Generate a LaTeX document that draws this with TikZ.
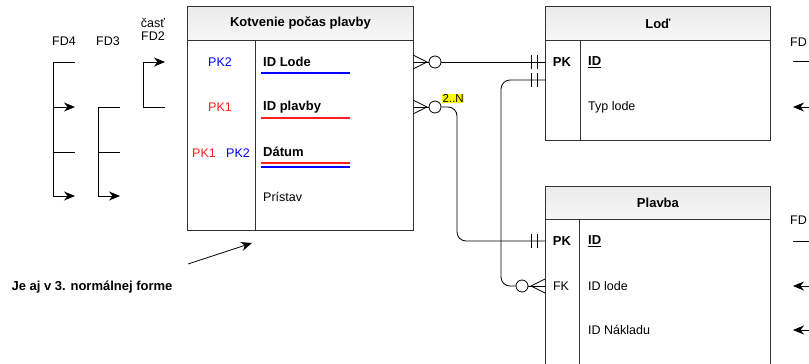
\documentclass[tikz,border=0pt]{standalone}
\usepackage{fontspec}
\setmainfont{Liberation Sans}
\usetikzlibrary{arrows.meta}
\definecolor{keyred}{RGB}{255,30,30}
\definecolor{keyblue}{RGB}{0,0,255}
\definecolor{hlyellow}{RGB}{255,255,0}
\newcommand{\rgfont}{\fontsize{12.5}{14}\selectfont}
\newcommand{\bdfont}{\fontsize{13}{15}\selectfont\bfseries}
\tikzset{
  tbl/.style={draw=black!80, line width=0.9pt, inner sep=0pt, anchor=north west},
  tblhead/.style={tbl, top color=black!8, bottom color=black!3, font=\bdfont},
  sep/.style={draw=black!80, line width=0.9pt},
  attr/.style={anchor=west, inner sep=0pt},
  battr/.style={attr, font=\bdfont},
  keytag/.style={inner sep=0pt},
  con/.style={line width=0.8pt, line join=round},
  crow/.style={line width=0.8pt, line join=miter},
  fdline/.style={line width=0.8pt},
  fdarrow/.style={line width=0.8pt, -{Stealth[length=11pt,width=9pt,inset=3.5pt]}},
  ulred/.style={color=keyred, line width=1.2pt},
  ulblue/.style={color=keyblue, line width=1.2pt},
}
\begin{document}
\begin{tikzpicture}[x=1pt, y=-1pt, font=\rgfont]
\useasboundingbox (0,0) rectangle (809,364);
\clip (0,0) rectangle (809,364);

% ---------- table: Kotvenie počas plavby ----------
\node[tbl, minimum width=226pt, minimum height=224pt] (kot) at (187,6) {};
\node[tblhead, minimum width=226pt, minimum height=34pt] (kothead) at (187,6) {Kotvenie počas plavby};
\draw[sep] (255,40) -- (255,230);
\node[keytag, text=keyblue] (kk1) at (220,62) {PK2};
\node[keytag, text=keyred] (kk2) at (220,107) {PK1};
\node[keytag, text=keyred] (kk3a) at (204,153) {PK1};
\node[keytag, text=keyblue] (kk3b) at (238,153) {PK2};
\node[battr] (ka1) at (263,62) {ID Lode};
\node[battr] (ka2) at (263,107) {ID plavby};
\node[battr] (ka3) at (263,152) {Dátum};
\node[attr] (ka4) at (263,197) {Prístav};
\draw[ulblue] (261,73) -- (350,73);
\draw[ulred] (261,118) -- (350,118);
\draw[ulred] (261,163) -- (350,163);
\draw[ulblue] (261,167) -- (350,167);

% ---------- table: Loď ----------
\node[tbl, minimum width=225pt, minimum height=134pt] (lod) at (545,6) {};
\node[tblhead, minimum width=225pt, minimum height=34pt] (lodhead) at (545,6) {Loď};
\draw[sep] (580,40) -- (580,140);
\node[keytag, font=\bdfont] (lk1) at (562,62) {PK};
\node[battr] (la1) at (588,62) {\underline{ID}};
\node[attr] (la2) at (588,107) {Typ lode};

% ---------- table: Plavba ----------
\node[tbl, minimum width=225pt, minimum height=200pt] (plv) at (545,186) {};
\node[tblhead, minimum width=225pt, minimum height=33pt] (plvhead) at (545,186) {Plavba};
\draw[sep] (579,219) -- (579,386);
\node[keytag, font=\bdfont] (pk1) at (562,241) {PK};
\node[keytag] (pk2) at (561,286) {FK};
\node[battr] (pa1) at (588,241) {\underline{ID}};
\node[attr] (pa2) at (588,286) {ID lode};
\node[attr] (pa3) at (588,330) {ID Nákladu};

% ---------- relationship ends ----------
\coordinate (k1) at (413,62);
\coordinate (k2) at (413,107);
\coordinate (l1) at (545,62);
\coordinate (l2) at (545,80);
\coordinate (p1) at (545,241);
\coordinate (p2) at (545,286);

% Kotvenie (zero or many) -- Loď (exactly one)
\draw[crow] (413,55) -- (427,62) -- (413,69);
\draw[con] (k1) -- (429,62);
\node[con, draw, circle, minimum size=12pt, inner sep=0pt] (c1) at (435,62) {};
\draw[con] (c1.east) -- (l1);
\draw[con] (531,55) -- (531,69) (537,55) -- (537,69);

% Kotvenie (zero or many, 2..N) -- Plavba (exactly one)
\draw[crow] (413,100) -- (427,107) -- (413,114);
\draw[con] (k2) -- (429,107);
\node[con, draw, circle, minimum size=12pt, inner sep=0pt] (c2) at (435,107) {};
\draw[con, rounded corners=9pt] (c2.east) -- (457,107) -- (457,241) -- (p1);
\draw[con] (531,234) -- (531,248) (537,234) -- (537,248);
\node[fill=hlyellow, inner sep=0.5pt, anchor=south west, font=\fontsize{11.5}{12}\selectfont] (card) at (442,103) {2..N};

% Loď (exactly one) -- Plavba (zero or many)
\draw[con] (531,73) -- (531,87) (537,73) -- (537,87);
\node[con, draw, circle, minimum size=12pt, inner sep=0pt] (c3) at (522,286) {};
\draw[con, rounded corners=9pt] (l2) -- (501,80) -- (501,286) -- (c3.west);
\draw[crow] (545,279) -- (531,286) -- (545,293);
\draw[con] (c3.east) -- (p2);

% ---------- functional dependencies on the left ----------
\node (fd4) at (64,41) {FD4};
\node (fd3) at (108,41) {FD3};
\node[align=center, inner sep=0pt] (fd2) at (153,29) {časť\\[-1pt]FD2};

\coordinate (a1) at (53,62);
\coordinate (a2) at (53,107);
\coordinate (a3) at (53,152);
\coordinate (a4) at (53,196);
\draw[fdline] (75,62) -- (a1) -- (a4);
\draw[fdarrow] (a2) -- (75,107);
\draw[fdline] (a3) -- (75,152);
\draw[fdarrow] (a4) -- (75,196);

\coordinate (b1) at (98,107);
\coordinate (b2) at (98,152);
\coordinate (b3) at (98,196);
\draw[fdline] (120,107) -- (b1) -- (b3);
\draw[fdline] (b2) -- (120,152);
\draw[fdarrow] (b3) -- (120,196);

\coordinate (d1) at (143,62);
\coordinate (d2) at (143,107);
\draw[fdarrow] (d1) -- (165,62);
\draw[fdline] (d1) -- (d2) -- (165,107);

% ---------- functional dependencies on the right ----------
\node[anchor=west, inner sep=0pt] (fdr1) at (790,42) {FD};
\draw[fdline] (793,61) -- (812,61);
\draw[fdarrow] (812,107) -- (793,107);
\node[anchor=west, inner sep=0pt] (fdr2) at (790,220) {FD};
\draw[fdline] (793,241) -- (812,241);
\draw[fdarrow] (812,286) -- (793,286);
\draw[fdarrow] (812,330) -- (793,330);

% ---------- note ----------
\node[font=\bdfont] (note) at (92,287) {Je aj v 3. normálnej forme};
\coordinate (notetip) at (252,243);
\draw[fdarrow] (188,264) -- (notetip);
\end{tikzpicture}
\end{document}
